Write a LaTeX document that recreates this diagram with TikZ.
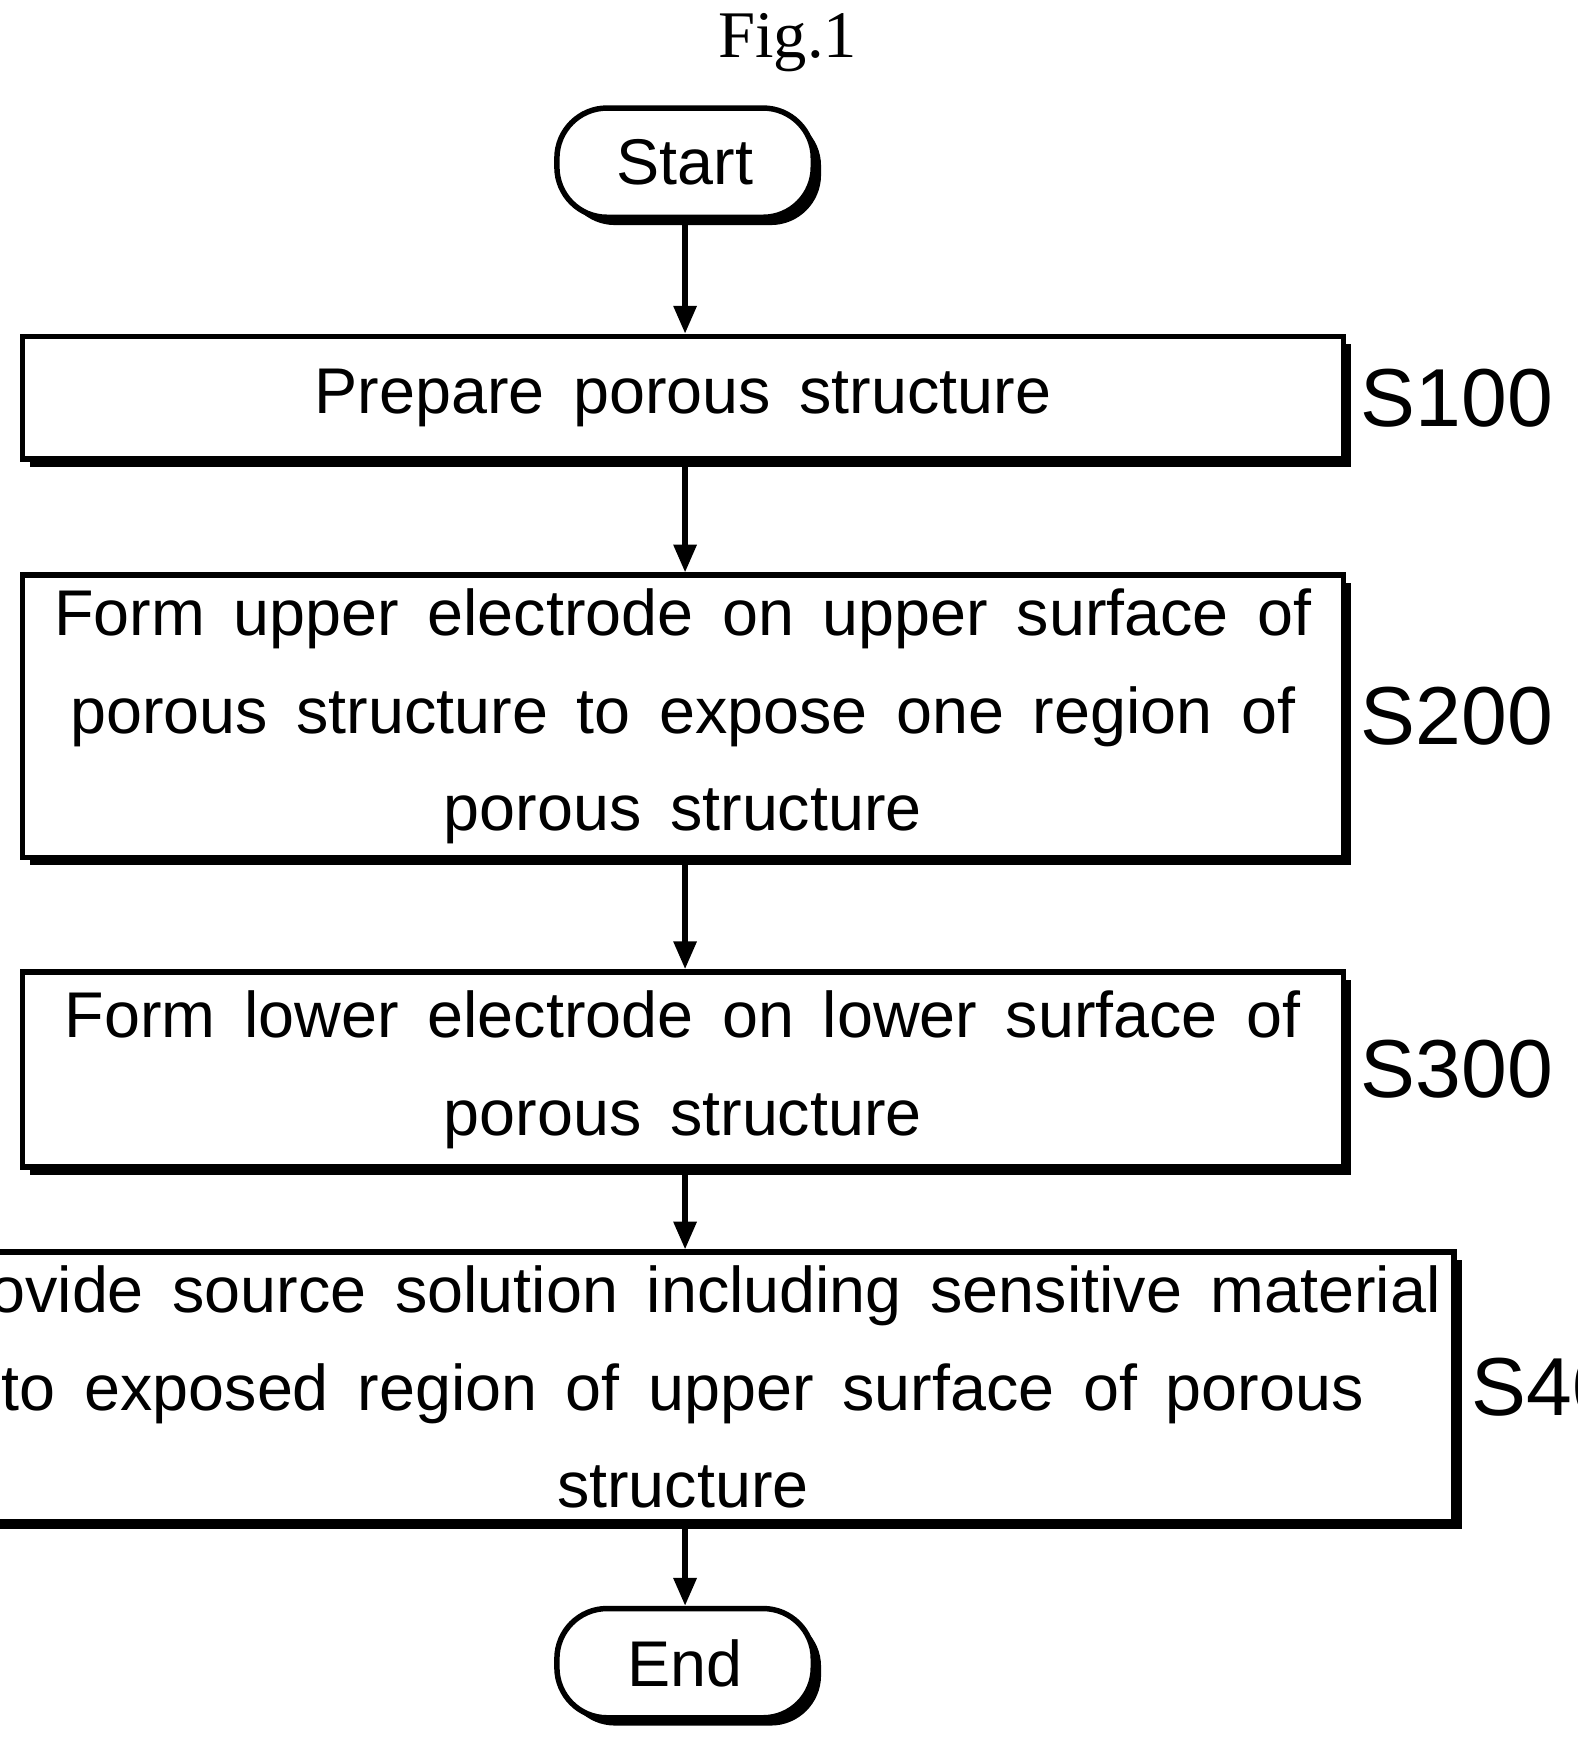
\documentclass[tikz,border=0pt]{standalone}
\usepackage{fontspec}
\setmainfont[WordSpace=1.6]{Liberation Sans}
\newfontfamily\figfont{Liberation Serif}
\usetikzlibrary{shadows,arrows.meta}

\tikzset{
  procbox/.style={draw, line width=1.4pt, fill=white, minimum width=11.85cm, align=center,
    font=\fontsize{16.5}{25}\selectfont,
    drop shadow={shadow xshift=0.07cm, shadow yshift=-0.07cm, fill=black, opacity=1}},
  term/.style={procbox, minimum width=2.3cm, minimum height=0.98cm, rounded corners=0.45cm},
  flow/.style={line width=1.4pt, -{Triangle[length=0.25cm,width=0.2cm]}},
  tag/.style={font=\fontsize{21}{21}\selectfont, anchor=west}
}
\newcommand{\steptag}[2]{%
  \draw[line width=0.8pt] (#1.east) ++(0.08,0) coordinate (#1w)
    .. controls +(0.12,0.12) and +(-0.15,0) .. ++(0.32,0.04)
    .. controls +(0.15,0) and +(-0.15,0) .. ++(0.3,-0.1)
    .. controls +(0.1,0) and +(-0.1,0) .. ++(0.2,0.05) coordinate (#1t);
  \node[tag] (#1l) at (#1t) {#2};}

\begin{document}
\begin{tikzpicture}[x=0.01cm, y=-0.01cm]
\useasboundingbox (0,0) rectangle (1416,1562);
\node[font=\figfont\fontsize{17}{17}\selectfont] (fig) at (707,38) {Fig.1};

% flow boxes
\node[term] (start) at (615,146) {Start};
\node[procbox, minimum height=1.1cm] (s1) at (613,357) {Prepare porous structure};
\node[procbox, minimum height=2.43cm] (s2) at (613,643) {Form upper electrode on upper surface of\\porous structure to expose one region of\\porous structure};
\node[procbox, minimum height=1.75cm] (s3) at (613,960) {Form lower electrode on lower surface of\\porous structure};
\node[procbox, minimum height=1.75cm] (s4) at (613,1245) {Provide source solution including sensitive material\\to exposed region of upper surface of porous\\structure};
\node[term] (end) at (615,1493) {End};

% arrows
\draw[flow] (start) -- (s1.north -| start);
\draw[flow] (s1.south -| start) -- (s2.north -| start);
\draw[flow] (s2.south -| start) -- (s3.north -| start);
\draw[flow] (s3.south -| start) -- (s4.north -| start);
\draw[flow] (s4.south -| start) -- (end);

% step labels
\steptag{s1}{S100}
\steptag{s2}{S200}
\steptag{s3}{S300}
\steptag{s4}{S400}
\end{tikzpicture}
\end{document}
